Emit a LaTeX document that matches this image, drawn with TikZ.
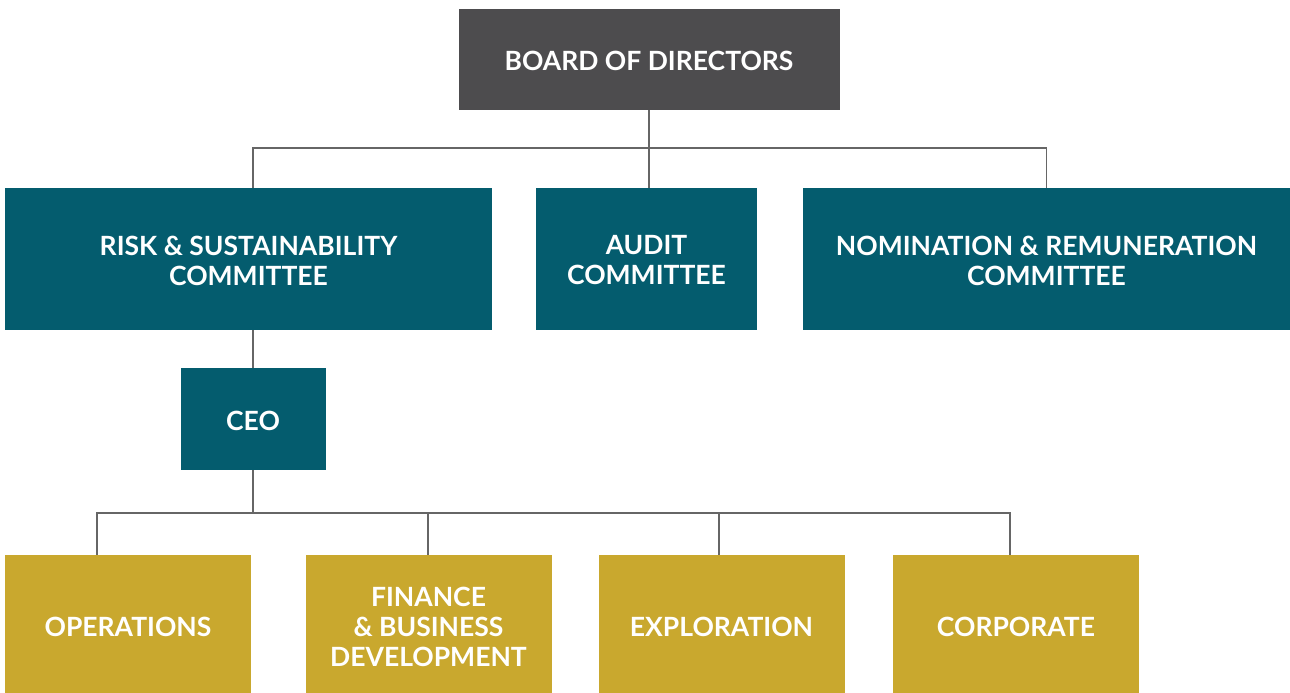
\documentclass[tikz,border=0pt]{standalone}
\usepackage{fontspec}
\setmainfont{Lato}
\definecolor{boardgray}{HTML}{4D4C4E}
\definecolor{teal}{HTML}{045C6E}
\definecolor{gold}{HTML}{C9A82E}
\definecolor{linegray}{HTML}{666666}
\begin{document}
\begin{tikzpicture}[x=1pt,y=-1pt,
  box/.style={rectangle, inner sep=0pt, text=white, align=center,
    font=\fontsize{26.5}{30}\selectfont\bfseries},
  conn/.style={draw=linegray, line width=1.3pt}]
\useasboundingbox (0,0) rectangle (1290,693);
\node[box, fill=boardgray, minimum width=381, minimum height=101] (board) at (649,59.5) {};
\node[box] (boardtxt) at (649,61) {BOARD OF DIRECTORS};
\node[box, fill=teal, minimum width=487, minimum height=142] (risk) at (248.5,259) {};
\node[box] (risktxt) at (248.5,260.5) {RISK \& SUSTAINABILITY\\COMMITTEE};
\node[box, fill=teal, minimum width=221, minimum height=142] (audit) at (646.5,259) {};
\node[box] (audittxt) at (646.5,260.5) {AUDIT\\COMMITTEE};
\node[box, fill=teal, minimum width=487, minimum height=142] (nom) at (1046.5,259) {};
\node[box] (nomtxt) at (1046.5,260.5) {NOMINATION \& REMUNERATION\\COMMITTEE};
\node[box, fill=teal, minimum width=145, minimum height=102] (ceo) at (253,419) {};
\node[box] (ceotxt) at (253,420.5) {CEO};
\node[box, fill=gold, minimum width=246, minimum height=140] (ops) at (128,625) {};
\node[box] (opstxt) at (128,627) {OPERATIONS};
\node[box, fill=gold, minimum width=246, minimum height=140] (fin) at (428.5,625) {};
\node[box] (fintxt) at (428.5,627) {FINANCE\\\& BUSINESS\\DEVELOPMENT};
\node[box, fill=gold, minimum width=246, minimum height=140] (exp) at (721.5,625) {};
\node[box] (exptxt) at (721.5,627) {EXPLORATION};
\node[box, fill=gold, minimum width=246, minimum height=140] (corp) at (1016,625) {};
\node[box] (corptxt) at (1016,627) {CORPORATE};
\coordinate (j1) at (649,148);
\coordinate (j2) at (253,513);
\draw[conn] (board.south) -- (j1);
\draw[conn] (risk.north -| 253,0) |- (j1) -| (nom.north);
\draw[conn] (j1) -- (audit.north -| j1);
\draw[conn] (risk.south -| ceo.north) -- (ceo.north);
\draw[conn] (ceo.south) -- (j2);
\draw[conn] (ops.north -| 97,0) |- (j2) -| (corp.north -| 1010,0);
\draw[conn] (fin.north -| 428,0) -- (428,513);
\draw[conn] (exp.north -| 719,0) -- (719,513);
\end{tikzpicture}
\end{document}
